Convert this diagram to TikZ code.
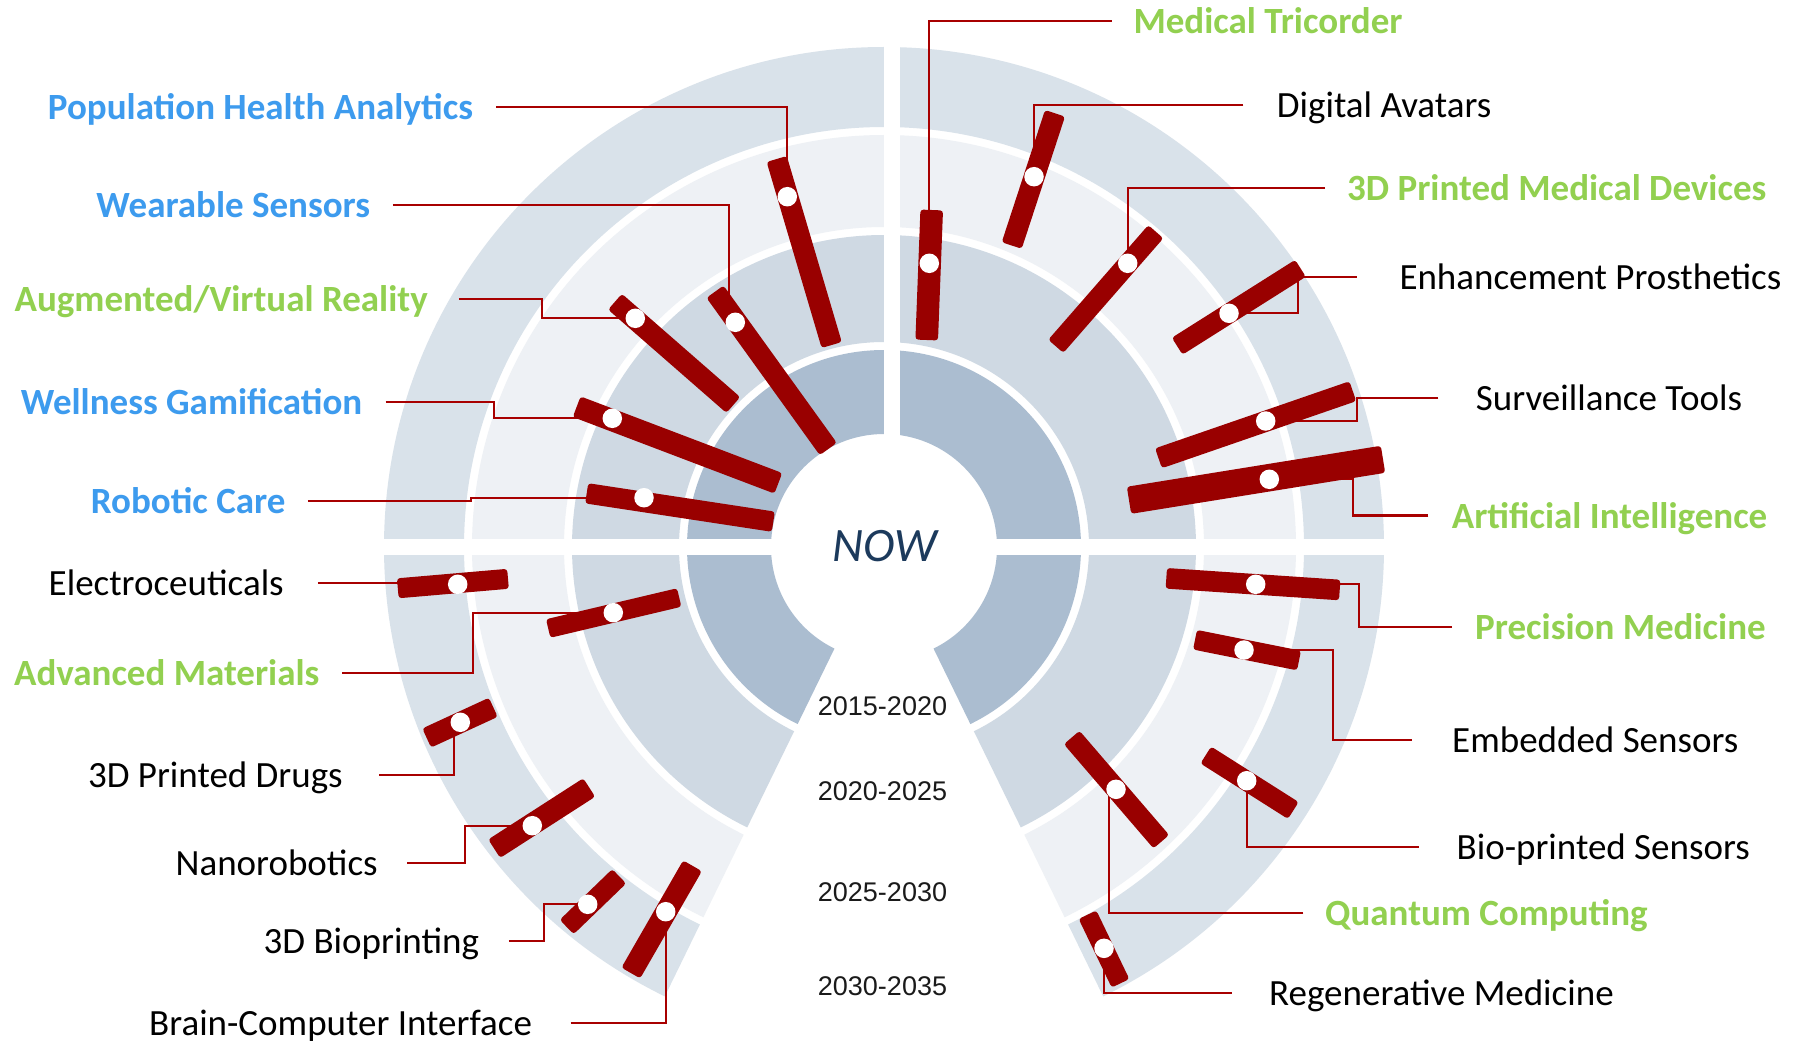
\documentclass[tikz,border=0pt]{standalone}
\usepackage{fontspec}
\setmainfont{Carlito}
\newfontfamily\yearfont{Liberation Sans}
\usetikzlibrary{calc}
\definecolor{ringA}{HTML}{ABBDD0}
\definecolor{ringB}{HTML}{CFD9E3}
\definecolor{ringC}{HTML}{EEF1F5}
\definecolor{ringD}{HTML}{D9E2EA}
\definecolor{barred}{HTML}{990000}
\definecolor{connred}{HTML}{A80000}
\definecolor{labblue}{HTML}{3D9BEE}
\definecolor{labgreen}{HTML}{92D050}
\definecolor{nowblue}{HTML}{1C3A5C}
\definecolor{yeargray}{HTML}{1A1A1A}
\pgfdeclarelayer{bg}
\pgfdeclarelayer{wires}
\pgfsetlayers{bg,wires,main}
\tikzset{
  lab/.style={inner sep=0pt},
  labL/.style={lab, anchor=base east},
  labR/.style={lab, anchor=base west},
  tblue/.style={text=labblue, font=\fontsize{37}{40}\selectfont\bfseries},
  tgreen/.style={text=labgreen, font=\fontsize{37}{40}\selectfont\bfseries},
  tblack/.style={text=black, font=\fontsize{37}{40}\selectfont},
  conn/.style={draw=connred, line width=2.2pt},
  dotnode/.style={circle, fill=white, inner sep=0pt, minimum size=19.5pt},
  barfill/.style={fill=barred, rounded corners=3pt},
  yearlab/.style={font=\yearfont\fontsize{27}{30}\selectfont, text=yeargray, anchor=base, inner sep=0pt},
}
\newcommand{\ringsector}[5]{%
  \fill[#1] ([shift={(884,547)}]#2:#5) arc[start angle=#2, end angle=#3, radius=#5]
    -- ([shift={(884,547)}]#3:#4) arc[start angle=#3, end angle=#2, radius=#4] -- cycle;}
\newcommand{\drawbar}[5]{%
  \fill[barfill] ($(#1,#2)!#5pt!90:(#3,#4)$) -- ($(#3,#4)!#5pt!-90:(#1,#2)$)
    -- ($(#3,#4)!#5pt!90:(#1,#2)$) -- ($(#1,#2)!#5pt!-90:(#3,#4)$) -- cycle;}
\begin{document}
\begin{tikzpicture}[x=1pt,y=-1pt]
\useasboundingbox (0,0) rectangle (1804,1043);
\begin{pgfonlayer}{bg}
  \fill[white] (0,0) rectangle (1804,1043);
  % upper half
  \ringsector{ringD}{180}{360}{420}{500}
  \ringsector{ringC}{180}{360}{320}{412}
  \ringsector{ringB}{180}{360}{205}{312}
  \ringsector{ringA}{180}{360}{113}{197}
  % lower left
  \ringsector{ringD}{116}{180}{420}{500}
  \ringsector{ringC}{116}{180}{320}{412}
  \ringsector{ringB}{116}{180}{205}{312}
  \ringsector{ringA}{116}{180}{113}{197}
  % lower right
  \ringsector{ringD}{0}{64}{420}{500}
  \ringsector{ringC}{0}{64}{320}{412}
  \ringsector{ringB}{0}{64}{205}{312}
  \ringsector{ringA}{0}{64}{113}{197}
  % gaps
  \fill[white] (884,30) rectangle (900,547);
  \fill[white] (370,538.5) rectangle (1400,555);
\end{pgfonlayer}

% centre and years
\node[inner sep=0pt, font=\fontsize{48}{50}\selectfont\itshape, text=nowblue] (now) at (885,546) {NOW};
\node[yearlab] (y1) at (882.5,715.7) {2015-2020};
\node[yearlab] (y2) at (882.5,800) {2020-2025};
\node[yearlab] (y3) at (882.5,901.7) {2025-2030};
\node[yearlab] (y4) at (882.5,995) {2030-2035};

% left labels
\node[labL,tblue]  (lPHA) at (473.2,119.3) {Population Health Analytics};
\node[labL,tblue]  (lWS)  at (370.4,217.6) {Wearable Sensors};
\node[labL,tgreen] (lAR)  at (427.9,311.6) {Augmented/Virtual Reality};
\node[labL,tblue]  (lWG)  at (362.5,414.9) {Wellness Gamification};
\node[labL,tblue]  (lRC)  at (285.7,513.6) {Robotic Care};
\node[labL,tblack] (lEL)  at (283.9,595.9) {Electroceuticals};
\node[labL,tgreen] (lAM)  at (319.6,685.3) {Advanced Materials};
\node[labL,tblack] (lPD)  at (342.9,787.6) {3D Printed Drugs};
\node[labL,tblack] (lNR)  at (377.9,875.3) {Nanorobotics};
\node[labL,tblack] (lBP)  at (479.3,953.6) {3D Bioprinting};
\node[labL,tblack] (lBCI) at (532.1,1035.9) {Brain-Computer Interface};
% right labels
\node[labR,tgreen] (lMT)  at (1133.3,33.3) {Medical Tricorder};
\node[labR,tblack] (lDA)  at (1276.7,117.6) {Digital Avatars};
\node[labR,tgreen] (lPMD) at (1347,200.9) {3D Printed Medical Devices};
\node[labR,tblack] (lEP)  at (1399.3,289.4) {Enhancement Prosthetics};
\node[labR,tblack] (lST)  at (1475.7,410.8) {Surveillance Tools};
\node[labR,tgreen] (lAI)  at (1451.7,528) {Artificial Intelligence};
\node[labR,tgreen] (lPM)  at (1475,639.6) {Precision Medicine};
\node[labR,tblack] (lES)  at (1452,752.4) {Embedded Sensors};
\node[labR,tblack] (lBS)  at (1456.5,859.3) {Bio-printed Sensors};
\node[labR,tgreen] (lQC)  at (1325,925.9) {Quantum Computing};
\node[labR,tblack] (lRM)  at (1269,1005.9) {Regenerative Medicine};

% connector start points
\coordinate (sPHA) at ([shift={(23.2,-12.6)}]lPHA.base east);
\coordinate (sWS)  at ([shift={(22.5,-12.6)}]lWS.base east);
\coordinate (sAR)  at ([shift={(31,-12.6)}]lAR.base east);
\coordinate (sWG)  at ([shift={(23.2,-12.6)}]lWG.base east);
\coordinate (sRC)  at ([shift={(22.2,-12.6)}]lRC.base east);
\coordinate (sEL)  at ([shift={(34,-12.6)}]lEL.base east);
\coordinate (sAM)  at ([shift={(22.5,-12.6)}]lAM.base east);
\coordinate (sPD)  at ([shift={(36.4,-12.6)}]lPD.base east);
\coordinate (sNR)  at ([shift={(29.2,-12.6)}]lNR.base east);
\coordinate (sBP)  at ([shift={(29.6,-12.6)}]lBP.base east);
\coordinate (sBCI) at ([shift={(38.6,-12.6)}]lBCI.base east);
\coordinate (sMT)  at ([shift={(-21.6,-12.6)}]lMT.base west);
\coordinate (sDA)  at ([shift={(-33.4,-12.6)}]lDA.base west);
\coordinate (sPMD) at ([shift={(-22,-12.6)}]lPMD.base west);
\coordinate (sEP)  at ([shift={(-42.6,-12.6)}]lEP.base west);
\coordinate (sST)  at ([shift={(-37.4,-12.6)}]lST.base west);
\coordinate (sAI)  at ([shift={(-23.4,-12.6)}]lAI.base west);
\coordinate (sPM)  at ([shift={(-23,-12.6)}]lPM.base west);
\coordinate (sES)  at ([shift={(-40.3,-12.6)}]lES.base west);
\coordinate (sBS)  at ([shift={(-37.9,-12.6)}]lBS.base west);
\coordinate (sQC)  at ([shift={(-21.7,-12.6)}]lQC.base west);
\coordinate (sRM)  at ([shift={(-37.3,-12.6)}]lRM.base west);

% bars
\drawbar{776.7}{159}{831.7}{345}{10.5}
\drawbar{715}{291.7}{828.3}{449}{10.5}
\drawbar{615}{301.7}{733.3}{405}{10.5}
\drawbar{576.7}{406.7}{778.3}{483.3}{11}
\drawbar{586.7}{493.3}{773.3}{521.7}{10.2}
\drawbar{397.8}{588.3}{508}{578.8}{10}
\drawbar{548.2}{628.5}{679.2}{597.5}{9.5}
\drawbar{493.3}{707.3}{426.7}{738}{10.5}
\drawbar{589.2}{787.5}{494.2}{848.7}{11}
\drawbar{619.2}{876.3}{566.7}{927}{10}
\drawbar{692.5}{865.8}{630.8}{973}{10.8}
\drawbar{931.7}{210}{926.7}{340}{11.3}
\drawbar{1055}{113.3}{1011.7}{245.5}{10.5}
\drawbar{1155.8}{231.7}{1055.8}{346.3}{10}
\drawbar{1300.5}{268.3}{1177.2}{346.2}{10}
\drawbar{1352.8}{391.2}{1158.5}{458.3}{10.5}
\drawbar{1383}{459.3}{1129}{500.3}{13.7}
\drawbar{1166.3}{578.3}{1339.7}{590}{10.3}
\drawbar{1195}{639.7}{1299}{660.5}{10}
\drawbar{1205.8}{755}{1293.3}{810.5}{10}
\drawbar{1071.7}{737.5}{1161.3}{841.7}{10.3}
\drawbar{1087.5}{914.7}{1120.5}{983.3}{9.8}

% dots
\node[dotnode] (dPHA) at (787.3,196.7) {};
\node[dotnode] (dWS)  at (735.3,322.3) {};
\node[dotnode] (dAR)  at (635.3,318.3) {};
\node[dotnode] (dWG)  at (612.3,418.3) {};
\node[dotnode] (dRC)  at (644,497.7) {};
\node[dotnode] (dEL)  at (457.7,584.3) {};
\node[dotnode] (dAM)  at (613.3,612.7) {};
\node[dotnode] (dPD)  at (460.3,722.3) {};
\node[dotnode] (dNR)  at (532.3,825.7) {};
\node[dotnode] (dBP)  at (587.7,904.3) {};
\node[dotnode] (dBCI) at (665.7,911.7) {};
\node[dotnode] (dMT)  at (929.3,263.3) {};
\node[dotnode] (dDA)  at (1034,176.7) {};
\node[dotnode] (dPMD) at (1127.7,263.3) {};
\node[dotnode] (dEP)  at (1229,313.3) {};
\node[dotnode] (dST)  at (1265.7,421) {};
\node[dotnode] (dAI)  at (1269.3,479.3) {};
\node[dotnode] (dPM)  at (1255.7,584.3) {};
\node[dotnode] (dES)  at (1244,650) {};
\node[dotnode] (dBS)  at (1246.7,780.7) {};
\node[dotnode] (dQC)  at (1116,789.3) {};
\node[dotnode] (dRM)  at (1104,948.3) {};

% connectors
\begin{pgfonlayer}{wires}
  \draw[conn] (sPHA) -| (dPHA.center);
  \draw[conn] (sWS) -| ([xshift=-6.6]dWS.center);
  \draw[conn] (sAR) -| ([xshift=-93.2]dAR.center) -- (dAR.center);
  \draw[conn] (sWG) -| ([xshift=-118.4]dWG.center) -- (dWG.center);
  \draw[conn] (sRC) -| ([xshift=-173.3]dRC.center) -- (dRC.center);
  \draw[conn] (sEL) -- (sEL -| dEL);
  \draw[conn] (sAM) -| ([xshift=-140.1]dAM.center) -- (dAM.center);
  \draw[conn] (sPD) -| ([xshift=-6.7]dPD.center);
  \draw[conn] (sNR) -| ([xshift=-67.3]dNR.center) -- (dNR.center);
  \draw[conn] (sBP) -| ([xshift=-44.1]dBP.center) -- (dBP.center);
  \draw[conn] (sBCI) -| (dBCI.center);
  \draw[conn] (sMT) -| (dMT.center);
  \draw[conn] (sDA) -| (dDA.center);
  \draw[conn] (sPMD) -| (dPMD.center);
  \draw[conn] (sEP) -| ([xshift=69.3]dEP.center) -- (dEP.center);
  \draw[conn] (sST) -| ([xshift=91.6]dST.center) -- (dST.center);
  \draw[conn] (sAI) -| ([xshift=84]dAI.center) -- (dAI.center);
  \draw[conn] (sPM) -| ([xshift=103.3]dPM.center) -- (dPM.center);
  \draw[conn] (sES) -| ([xshift=88.7]dES.center) -- (dES.center);
  \draw[conn] (sBS) -| (dBS.center);
  \draw[conn] (sQC) -| ([xshift=-6.7]dQC.center);
  \draw[conn] (sRM) -| (dRM.center);
\end{pgfonlayer}
\end{tikzpicture}
\end{document}
